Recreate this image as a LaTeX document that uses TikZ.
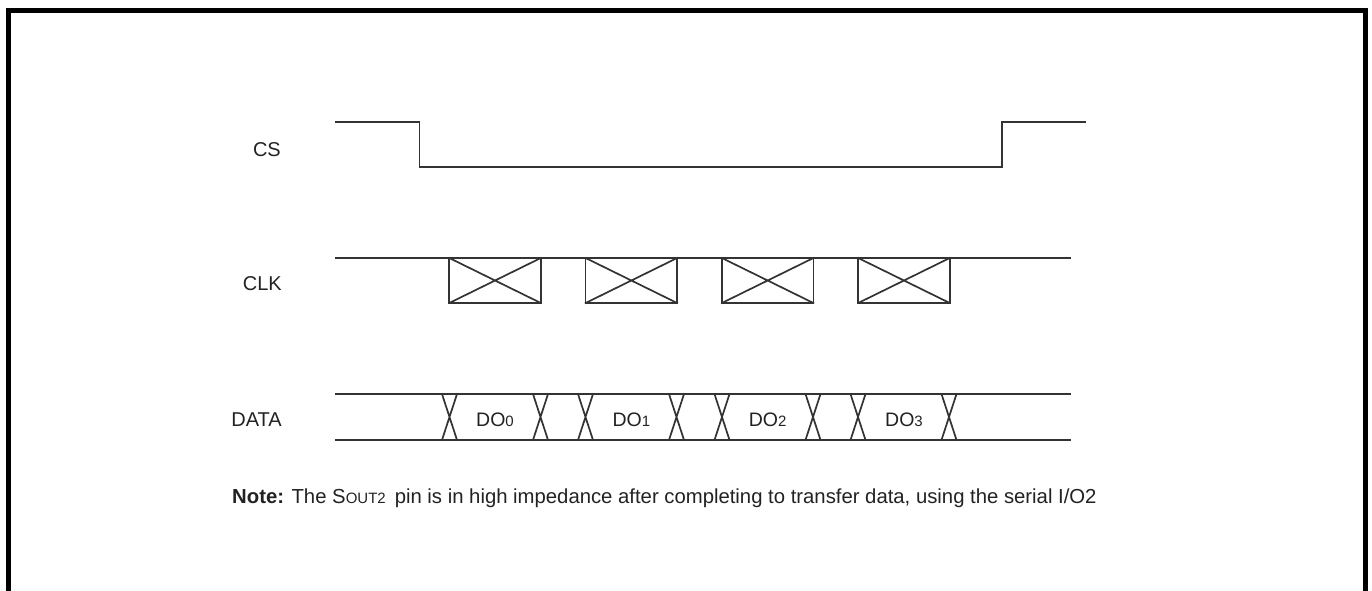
\documentclass[tikz,border=0pt]{standalone}
\usepackage{fontspec}
\setmainfont{Liberation Sans}
\usetikzlibrary{positioning}

\begin{document}
\begin{tikzpicture}[
    x=1pt, y=-1pt,
    every node/.style={font=\fontsize{20}{24}\selectfont, text=textgray, inner sep=0pt},
    signal/.style={draw=linegray, line width=1.7pt, line cap=rect, line join=miter},
    frame/.style={draw=black, line width=5pt},
    sublabel/.style={font=\fontsize{19.5}{23}\selectfont},
]

% Colors
\definecolor{linegray}{HTML}{333333}
\definecolor{textgray}{HTML}{222222}

% Smaller size for indices
\def\idx#1{{\fontsize{15}{17}\selectfont #1}}

% Signal levels
\def\csHi{122}
\def\csLo{167}
\def\clkHi{258}
\def\clkLo{303}
\def\datHi{394}
\def\datLo{440}

\useasboundingbox (0,0) rectangle (1372,590);

% Outer frame (open at the bottom)
\draw[frame] (8.5,600) -- (8.5,10.5) -- (1365.5,10.5) -- (1365.5,600);

% Signal names
\node[anchor=east] (cs) at (281,150) {CS};
\node[anchor=east] (clk) at (282,284) {CLK};
\node[anchor=east] (data) at (282,420) {DATA};

% CS waveform
\draw[signal] (336,\csHi) -- (419.5,\csHi) -- (419.5,\csLo) -- (1002,\csLo)
    -- (1002,\csHi) -- (1085.5,\csHi);

% CLK waveform
\draw[signal] (336,\clkHi) -- (1070,\clkHi);
\draw[signal] (449.3,\clkHi) rectangle (540.8,\clkLo);
\draw[signal] (449.3,\clkHi) -- (540.8,\clkLo) (449.3,\clkLo) -- (540.8,\clkHi);
\draw[signal] (585.6,\clkHi) rectangle (677.1,\clkLo);
\draw[signal] (585.6,\clkHi) -- (677.1,\clkLo) (585.6,\clkLo) -- (677.1,\clkHi);
\draw[signal] (721.9,\clkHi) rectangle (813.4,\clkLo);
\draw[signal] (721.9,\clkHi) -- (813.4,\clkLo) (721.9,\clkLo) -- (813.4,\clkHi);
\draw[signal] (858.2,\clkHi) rectangle (949.7,\clkLo);
\draw[signal] (858.2,\clkHi) -- (949.7,\clkLo) (858.2,\clkLo) -- (949.7,\clkHi);

% DATA waveform
\draw[signal] (336,\datHi) -- (1070,\datHi);
\draw[signal] (336,\datLo) -- (1070,\datLo);
\draw[signal] (442,\datHi) -- (457,\datLo) (457,\datHi) -- (442,\datLo);
\draw[signal] (533,\datHi) -- (548,\datLo) (548,\datHi) -- (533,\datLo);
\draw[signal] (578,\datHi) -- (593,\datLo) (593,\datHi) -- (578,\datLo);
\draw[signal] (669,\datHi) -- (684,\datLo) (684,\datHi) -- (669,\datLo);
\draw[signal] (714.5,\datHi) -- (729.5,\datLo) (729.5,\datHi) -- (714.5,\datLo);
\draw[signal] (805.5,\datHi) -- (820.5,\datLo) (820.5,\datHi) -- (805.5,\datLo);
\draw[signal] (850.5,\datHi) -- (865.5,\datLo) (865.5,\datHi) -- (850.5,\datLo);
\draw[signal] (941.5,\datHi) -- (956.5,\datLo) (956.5,\datHi) -- (941.5,\datLo);

% Data bit labels
\node[sublabel] (do0) at (495,420) {DO\idx{0}};
\node[sublabel] (do1) at (631.4,420) {DO\idx{1}};
\node[sublabel] (do2) at (767.7,420) {DO\idx{2}};
\node[sublabel] (do3) at (904,420) {DO\idx{3}};

% Note below the diagram
\node[anchor=west, font=\fontsize{20.3}{24}\selectfont] (note) at (232,498)
    {\textbf{Note:} The S{\fontsize{15}{17}\selectfont OUT2}\ \,pin is in high impedance after completing to transfer data, using the serial I/O2};

\end{tikzpicture}
\end{document}
